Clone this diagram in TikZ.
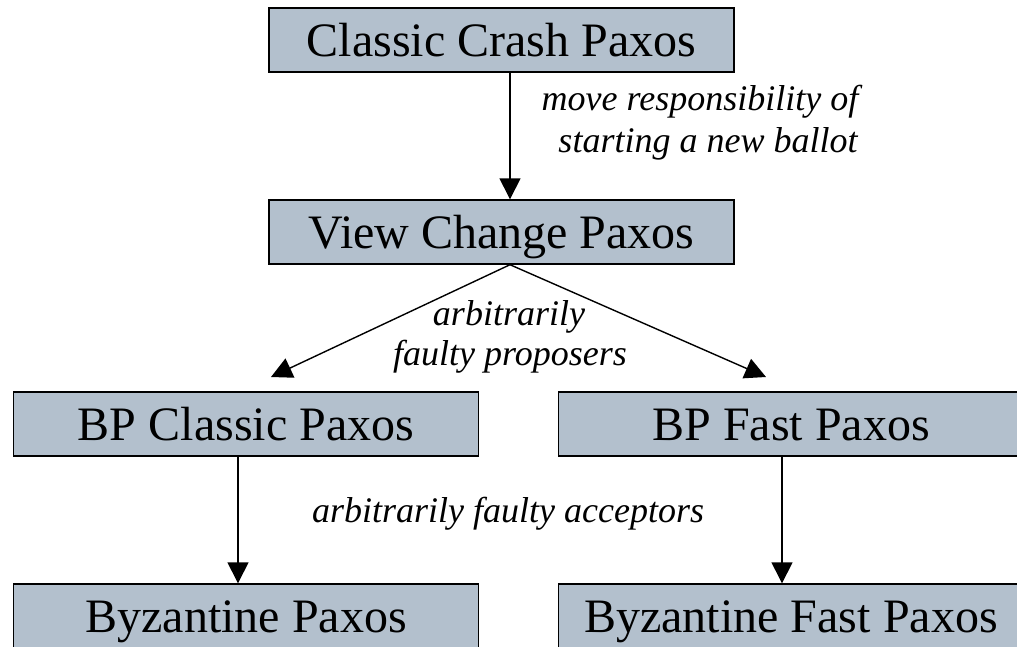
\documentclass[tikz,border=0pt]{standalone}
\usepackage{fontspec}
\setmainfont{Liberation Serif}[ItalicFont={Liberation Serif Italic}]
\usetikzlibrary{arrows.meta}
\definecolor{boxfill}{RGB}{179,192,205}
\begin{document}
\begin{tikzpicture}[x=1pt,y=-1pt,
  pbox/.style={draw=black,line width=1.4pt,fill=boxfill,minimum width=465pt,minimum height=64pt,
    inner sep=0pt,text height=32pt,text depth=0pt,font=\fontsize{48}{52}\selectfont},
  lbl/.style={anchor=base,inner sep=0pt,font=\fontsize{36}{42}\selectfont\itshape},
  arr/.style={line width=1.4pt,-{Triangle[length=21pt,width=21pt]}}]
\useasboundingbox (0,0) rectangle (1017,646);
\clip (0,0) rectangle (1017,646);
\node[pbox] (ccp) at (501.5,40) {Classic Crash Paxos};
\node[pbox] (vcp) at (501.5,232) {View Change Paxos};
\node[pbox] (bpc) at (246,424) {BP Classic Paxos};
\node[pbox] (bpf) at (791,424) {BP Fast Paxos};
\node[pbox] (byz) at (246,616) {Byzantine Paxos};
\node[pbox] (byf) at (791,616) {Byzantine Fast Paxos};
\coordinate (tipL) at (271,377);
\coordinate (tipR) at (766,377);
\draw[arr] ([xshift=8.5pt]ccp.south) -- ([xshift=8.5pt]vcp.north);
\draw[arr] ([xshift=8.5pt]vcp.south) -- (tipL);
\draw[arr] ([xshift=8.5pt]vcp.south) -- (tipR);
\draw[arr] ([xshift=-8pt]bpc.south) -- ([xshift=-8pt]byz.north);
\draw[arr] ([xshift=-9pt]bpf.south) -- ([xshift=-9pt]byf.north);
\node[lbl] (l1a) at (700,110) {move responsibility of};
\node[lbl] (l1b) at (708,152) {starting a new ballot};
\node[lbl] (l2a) at (509,325) {arbitrarily};
\node[lbl] (l2b) at (510,365) {faulty proposers};
\node[lbl] (l3) at (508,522) {arbitrarily faulty acceptors};
\end{tikzpicture}
\end{document}
